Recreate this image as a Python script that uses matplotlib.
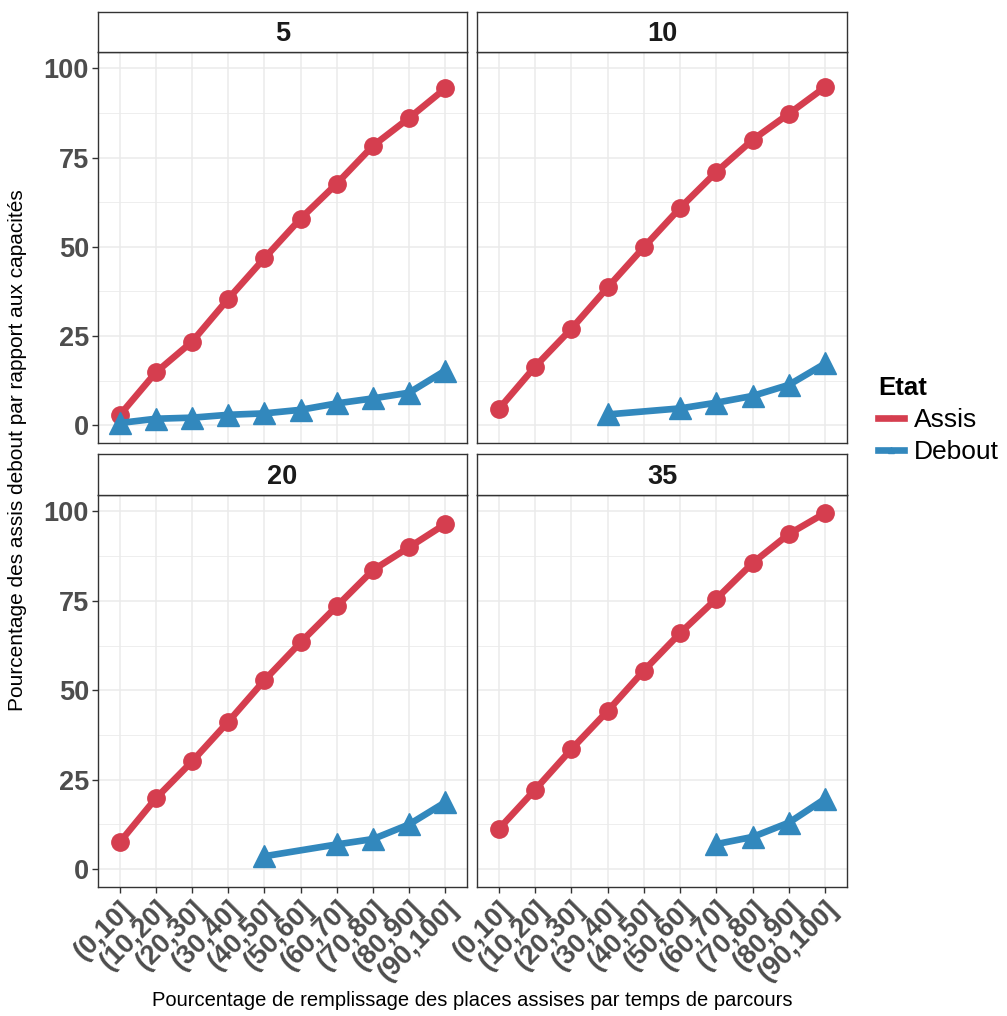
import matplotlib
matplotlib.use("Agg")
import matplotlib.pyplot as plt
from matplotlib.lines import Line2D
import numpy as np

plt.rcParams["font.family"] = ["Liberation Sans", "DejaVu Sans"]

categories = ["(0,10]", "(10,20]", "(20,30]", "(30,40]", "(40,50]",
              "(50,60]", "(60,70]", "(70,80]", "(80,90]", "(90,100]"]
panels = ["5", "10", "20", "35"]

nan = np.nan
assis_5 = [2.8, 14.8, 23.4, 35.4, 46.8, 57.9, 67.7, 78.3, 86.1, 94.4]
debout_5 = [0.6, 1.8, 2.1, 2.9, 3.3, 4.3, 6.1, 7.5, 9.1, 15.3]
assis_10 = [4.5, 16.4, 27.0, 38.6, 49.9, 60.9, 71.0, 80.0, 87.3, 94.8]
debout_10 = [nan, nan, nan, 3.0, nan, 4.7, 6.3, 8.2, 11.3, 17.3]
assis_20 = [7.5, 19.8, 30.1, 41.2, 52.8, 63.4, 73.5, 83.6, 90.0, 96.5]
debout_20 = [nan, nan, nan, nan, 3.6, nan, 6.9, 8.4, 12.5, 18.7]
assis_35 = [11.2, 22.2, 33.5, 44.2, 55.5, 66.0, 75.6, 85.6, 93.7, 99.6]
debout_35 = [nan, nan, nan, nan, nan, nan, 7.0, 9.0, 13.0, 19.7]

assis = [assis_5, assis_10, assis_20, assis_35]
debout = [debout_5, debout_10, debout_20, debout_35]

red = "#D53E4F"
blue = "#3288BD"
grid_col = "#EBEBEB"
txt_col = "#4D4D4D"

fig = plt.figure(figsize=(10.07, 10.16), dpi=100)

W, H = 1007, 1016
cols = [(98, 467), (477, 847)]
rows = [(12, 52, 443), (454, 495, 887)]  # strip top, plot top, plot bottom

x = np.arange(len(categories))

for i, name in enumerate(panels):
    r, c = divmod(i, 2)
    x0, x1 = cols[c]
    st, pt, pb = rows[r]
    ax = fig.add_axes([x0 / W, 1 - pb / H, (x1 - x0) / W, (pb - pt) / H])
    sx = fig.add_axes([x0 / W, 1 - pt / H, (x1 - x0) / W, (pt - st) / H])

    # strip
    sx.set_xticks([])
    sx.set_yticks([])
    sx.set_facecolor("white")
    for s in sx.spines.values():
        s.set_color("#333333")
        s.set_linewidth(1.0)
    sx.text(0.5, 0.45, name, ha="center", va="center", fontsize=19.5,
            fontweight="bold", color="#1A1A1A", transform=sx.transAxes)

    # grid
    ax.set_axisbelow(True)
    for yv in [0, 25, 50, 75, 100]:
        ax.axhline(yv, color=grid_col, lw=1.1, zorder=0)
    for yv in [12.5, 37.5, 62.5, 87.5]:
        ax.axhline(yv, color=grid_col, lw=0.6, zorder=0)
    for xv in x:
        ax.axvline(xv, color=grid_col, lw=1.1, zorder=0)

    a = np.array(assis[i], dtype=float)
    d = np.array(debout[i], dtype=float)
    ma = ~np.isnan(a)
    md = ~np.isnan(d)
    ax.plot(x[ma], a[ma], color=red, lw=4.8, marker="o", markersize=12.5,
            solid_capstyle="butt", zorder=3)
    ax.plot(x[md], d[md], color=blue, lw=4.8, marker="^", markersize=16,
            solid_capstyle="butt", zorder=4)

    ax.set_xlim(-0.6, 9.6)
    ax.set_ylim(-5, 104.6)
    ax.set_xticks(x)
    ax.set_yticks([0, 25, 50, 75, 100])
    for s in ax.spines.values():
        s.set_color("#333333")
        s.set_linewidth(1.0)
    ax.tick_params(axis="both", colors="#333333", length=4.5, width=1,
                   labelcolor=txt_col, labelsize=19.5, pad=2)

    if c == 0:
        ax.set_yticklabels(["0", "25", "50", "75", "100"], fontweight="bold")
    else:
        ax.tick_params(axis="y", length=0)
        ax.set_yticklabels([])
    if r == 1:
        ax.set_xticklabels(categories, rotation=45, ha="right",
                           rotation_mode="anchor", fontweight="bold",
                           fontsize=19.5)
    else:
        ax.tick_params(axis="x", length=0)
        ax.set_xticklabels([])

fig.text(18 / W, 1 - 450 / H, "Pourcentage des assis debout par rapport aux capacités",
         rotation=90, ha="center", va="center", fontsize=15, color="black")
fig.text(472 / W, 1 - 1000 / H,
         "Pourcentage de remplissage des places assises par temps de parcours",
         ha="center", va="center", fontsize=14.5, color="black")

handles = [
    Line2D([], [], color=red, lw=4.8, marker="o", markersize=3),
    Line2D([], [], color=blue, lw=4.8, marker="^", markersize=5),
]
leg = fig.legend(handles, ["Assis", "Debout"], title="Etat",
                 loc="upper left", bbox_to_anchor=(878 / W, 1 - 376 / H),
                 frameon=False, fontsize=19, title_fontsize=18.5,
                 handlelength=1.0, handletextpad=0.35, labelspacing=0.3,
                 borderaxespad=0, borderpad=0)
leg.get_title().set_fontweight("bold")
leg._legend_box.align = "left"

fig.savefig("out.png", dpi=100, facecolor="white")
